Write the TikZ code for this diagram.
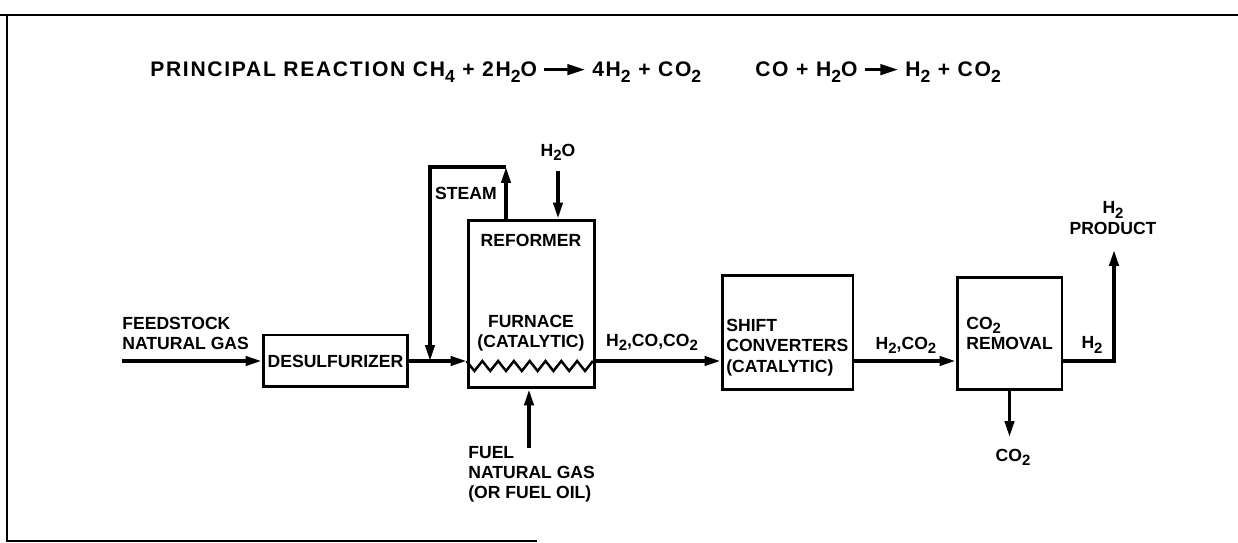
\documentclass[tikz,border=0pt]{standalone}
\usepackage{fontspec}
\setmainfont{Liberation Sans}
\newfontfamily\rxnfont{Liberation Sans}[LetterSpace=8]
\usetikzlibrary{arrows.meta,positioning}
\tikzset{
    unit/.style={draw, line width=1.7pt, inner sep=0pt},
    tag/.style={inner sep=0pt, align=left},
    flow/.style={-{Triangle[length=9pt,width=5.2pt]}, line width=1.9pt},
    rxnflow/.style={-{Triangle[length=10pt,width=6pt]}, line width=1.5pt},
    frame/.style={line width=0.9pt},
    rxn/.style={tag, font=\rxnfont\bfseries\fontsize{12}{14}\selectfont},
}
\newcommand{\dn}[1]{\raisebox{-0.45ex}{\fontsize{8.5}{8.5}\selectfont #1}}
\newcommand{\rdn}[1]{\raisebox{-0.45ex}{\fontsize{10}{10}\selectfont #1}}

\begin{document}
\begin{tikzpicture}[x=0.02cm, y=-0.02cm, font=\bfseries\fontsize{10}{11.5}\selectfont]
    \useasboundingbox (0,0) rectangle (1238,543);

    % frame
    \draw[frame, line width=1.3pt] (0,15) -- (1238,15);
    \draw[frame] (7,15) -- (7,541) -- (537,541);

    % reactions
    \node[rxn, anchor=base west] (rxnA) at (150,77) {PRINCIPAL REACTION CH\rdn{4} + 2H\rdn{2}O};
    \node[rxn, anchor=base west] (rxnB) at (592,77) {4H\rdn{2} + CO\rdn{2}};
    \draw[rxnflow] ([shift={(4pt,4.2pt)}]rxnA.base east) -- ([shift={(-4pt,4.2pt)}]rxnB.base west);
    \node[rxn, anchor=base west] (rxnC) at (755,77) {CO + H\rdn{2}O};
    \node[rxn, anchor=base west] (rxnD) at (905,77) {H\rdn{2} + CO\rdn{2}};
    \draw[rxnflow] ([shift={(4pt,4.2pt)}]rxnC.base east) -- ([shift={(-4pt,4.2pt)}]rxnD.base west);

    % units
    \node[unit, minimum width=2.9cm, minimum height=1.04cm] (desulf) at (335.5,361) {DESULFURIZER};
    \node[unit, minimum width=2.54cm, minimum height=3.36cm] (reformer) at (531.5,304) {};
    \node[tag] (reftext) at (531,240) {REFORMER};
    \node[tag, align=center] (furnace) at (531,333) {FURNACE\\(CATALYTIC)};
    \node[unit, minimum width=2.62cm, minimum height=2.3cm] (shift) at (787.5,332.5) {};
    \node[tag, anchor=north west] (shifttext) at (726,319) {SHIFT\\CONVERTERS\\(CATALYTIC)};
    \node[unit, minimum width=2.1cm, minimum height=2.26cm] (removal) at (1009.5,333.5) {};
    \node[tag, anchor=north west] (removaltext) at (966,317) {CO\dn{2}\\REMOVAL};

    % feed
    \node[tag, anchor=north west] (feedtext) at (122,317) {FEEDSTOCK\\NATURAL GAS};
    \coordinate (feedin) at (122,361);
    \draw[flow] (feedin) -- (desulf.west);

    % reformer in and out
    \coordinate (zzin) at (reformer.west |- desulf.east);
    \coordinate (zzout) at (reformer.east |- desulf.east);
    \draw[flow] (desulf.east) -- (zzin);
    \draw[line width=1.4pt] (zzin) \foreach \k in {1,...,8} { -- ++(7.9,10) -- ++(7.9,-10) };
    \draw[flow] (zzout) -- (zzout -| shift.west);
    \node[tag] (gas1) at (652,342) {H\dn{2},CO,CO\dn{2}};

    % steam loop
    \coordinate (steamtop) at (506,167);
    \coordinate (steamjoin) at (430,361);
    \draw[flow] (reformer.north -| steamtop) -- (steamtop);
    \draw[flow] (steamtop) -| (steamjoin);
    \node[tag, anchor=east] (steamtext) at (497,193) {STEAM};

    % water
    \coordinate (waterin) at (558,171);
    \draw[flow] (waterin) -- (waterin |- reformer.north);
    \node[tag] (watertext) at (558,152) {H\dn{2}O};

    % fuel
    \coordinate (fuelin) at (529,448);
    \draw[flow] (fuelin) -- (fuelin |- reformer.south);
    \node[tag, anchor=north west] (fueltext) at (468,446) {FUEL\\NATURAL GAS\\(OR FUEL OIL)};

    % shift to removal
    \draw[flow] (shift.east |- zzout) -- (removal.west |- zzout);
    \node[tag] (gas2) at (906,345) {H\dn{2},CO\dn{2}};

    % products
    \coordinate (prodtip) at (1114,250);
    \draw[flow] (removal.east |- zzout) -| (prodtip);
    \node[tag] (h2text) at (1092,345) {H\dn{2}};
    \node[tag, align=center] (prodtext) at (1113,218) {H\dn{2}\\PRODUCT};
    \coordinate (co2tip) at (1009.5,437);
    \draw[flow] (removal.south) -- (co2tip);
    \node[tag] (co2text) at (1013,457) {CO\dn{2}};

\end{tikzpicture}
\end{document}
